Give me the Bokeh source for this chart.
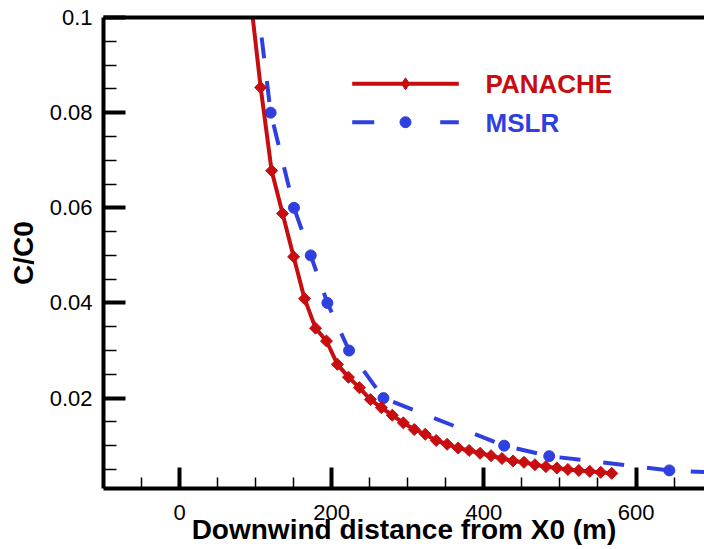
import numpy as np
from bokeh.plotting import figure
from bokeh.models import Range1d, FixedTicker, LinearAxis
from bokeh.core.properties import value
from bokeh.embed import file_html
from bokeh.resources import INLINE

# ---------------- data ----------------
panache_x = [94.0, 106.6, 121.0, 135.4, 149.9, 164.3, 178.7, 193.1, 207.5, 222.0,
             236.4, 250.8, 265.2, 279.6, 294.1, 308.5, 322.9, 337.3, 351.7, 366.2,
             380.6, 395.0, 409.4, 423.8, 438.3, 452.7, 467.1, 481.5, 495.9, 510.4,
             524.8, 539.2, 553.6, 568.0]
panache_y = [0.1030, 0.0853, 0.0678, 0.0588, 0.0497, 0.0409, 0.0347, 0.0320, 0.0271, 0.0244,
             0.0222, 0.0197, 0.0180, 0.0164, 0.0148, 0.0134, 0.0124, 0.0111, 0.0103, 0.0095,
             0.0090, 0.0084, 0.0079, 0.0073, 0.0068, 0.0065, 0.0060, 0.0056, 0.0053, 0.0050,
             0.0048, 0.0046, 0.0044, 0.0042]

mslr_x = [101.0, 119.7, 150.4, 172.4, 194.3, 222.8, 268.0, 426.7, 485.9, 643.8, 800.0]
mslr_y = [0.105, 0.080, 0.060, 0.050, 0.040, 0.030, 0.020, 0.010, 0.0078, 0.0048, 0.0036]

series_names = ["PANACHE", "MSLR"]

x_ticks = [0, 200, 400, 600]
x_tick_labels = ["0", "200", "400", "600"]
x_minor_ticks = [-50, 50, 100, 150, 250, 300, 350, 450, 500, 550, 650]
y_ticks = [0.02, 0.04, 0.06, 0.08, 0.1]
y_tick_labels = ["0.02", "0.04", "0.06", "0.08", "0.1"]
y_minor_ticks = [0.005, 0.01, 0.015, 0.025, 0.03, 0.035, 0.045, 0.05, 0.055,
                 0.065, 0.07, 0.075, 0.085, 0.09, 0.095]

x_title = "Downwind distance from X0 (m)"
y_title = "C/C0"

# ---------------- style ----------------
RED = "#c80d10"
BLUE = "#2f3fe0"
FONT = "Liberation Sans"
W, H = 704, 549
FL, FR, FT, FB = 103, 704, 17, 488          # frame edges in pixels
X0, X1 = -100, 690
Y0, Y1 = 0.001, 0.1


def px_x(px):
    return X0 + (px - FL) * (X1 - X0) / (FR - FL)


def px_y(py):
    return Y1 - (py - FT) * (Y1 - Y0) / (FB - FT)


p = figure(width=W, height=H, x_range=Range1d(X0, X1), y_range=Range1d(Y0, Y1),
           output_backend="svg", toolbar_location=None,
           min_border_left=FL, min_border_right=W - FR,
           min_border_top=FT, min_border_bottom=H - FB)
p.grid.visible = False
p.outline_line_color = None
p.background_fill_color = "white"
p.border_fill_color = "white"

for ax, ticks, minors, labels, tin, mtin in (
        (p.xaxis[0], x_ticks, x_minor_ticks, x_tick_labels, 21, 11),
        (p.yaxis[0], y_ticks, y_minor_ticks, y_tick_labels, 22, 13)):
    ax.ticker = FixedTicker(ticks=ticks, minor_ticks=minors)
    ax.major_label_overrides = {t: l for t, l in zip(ticks, labels)}
    ax.axis_line_width = 4
    ax.axis_line_color = "black"
    ax.major_tick_in = tin
    ax.major_tick_out = 0
    ax.major_tick_line_width = 4
    ax.minor_tick_in = mtin
    ax.minor_tick_out = 0
    ax.minor_tick_line_width = 1.5
    ax.major_label_text_font = FONT
    ax.major_label_text_font_size = "22px"
    ax.major_label_text_color = "black"
    ax.axis_label_text_font = FONT
    ax.axis_label_text_font_style = "bold"
    ax.axis_label_text_font_size = "28px"
    ax.axis_label_text_color = "black"

p.xaxis[0].major_label_standoff = 16
p.yaxis[0].major_label_standoff = 11
p.xaxis[0].axis_label = x_title
p.xaxis[0].axis_label_standoff = -9
p.yaxis[0].axis_label = y_title
p.yaxis[0].axis_label_standoff = 8

top = LinearAxis(ticker=FixedTicker(ticks=[]), axis_line_width=4, axis_line_color="black",
                 major_tick_in=0, major_tick_out=0, minor_tick_in=0, minor_tick_out=0,
                 major_label_text_font_size="0px")
p.add_layout(top, "above")

# ---------------- series ----------------
p.line(mslr_x, mslr_y, line_color=BLUE, line_width=4, line_dash="21 23")
p.scatter(mslr_x, mslr_y, marker="circle", size=11, fill_color=BLUE, line_color=BLUE)

p.line(panache_x, panache_y, line_color=RED, line_width=4)
p.scatter(panache_x, panache_y, marker="square", angle=np.pi / 4, size=8.5,
          fill_color=RED, line_color=RED)

# ---------------- legend (drawn by hand inside the frame) ----------------
LX0, LX1, LXM, LTX = 351.7, 458.3, 405.0, 485.0
for name, color, ly, dash, marker in ((series_names[0], RED, 83.3, "solid", "diamond"),
                                      (series_names[1], BLUE, 121.7, "22 66", "circle")):
    p.line([px_x(LX0), px_x(LX1)], [px_y(ly), px_y(ly)], line_color=color,
           line_width=4, line_dash=dash)
    if marker == "diamond":
        p.scatter([px_x(LXM)], [px_y(ly)], marker="diamond", size=12,
                  fill_color=color, line_color=color)
    else:
        p.scatter([px_x(LXM)], [px_y(ly)], marker="circle", size=11,
                  fill_color=color, line_color=color)
    p.text([px_x(LTX)], [px_y(ly + 0.5)], text=[name], text_color=color,
           text_font=value(FONT), text_font_style="bold", text_font_size="26px",
           text_align="left", text_baseline="middle")

open("out.html", "w").write(file_html(p, INLINE))
